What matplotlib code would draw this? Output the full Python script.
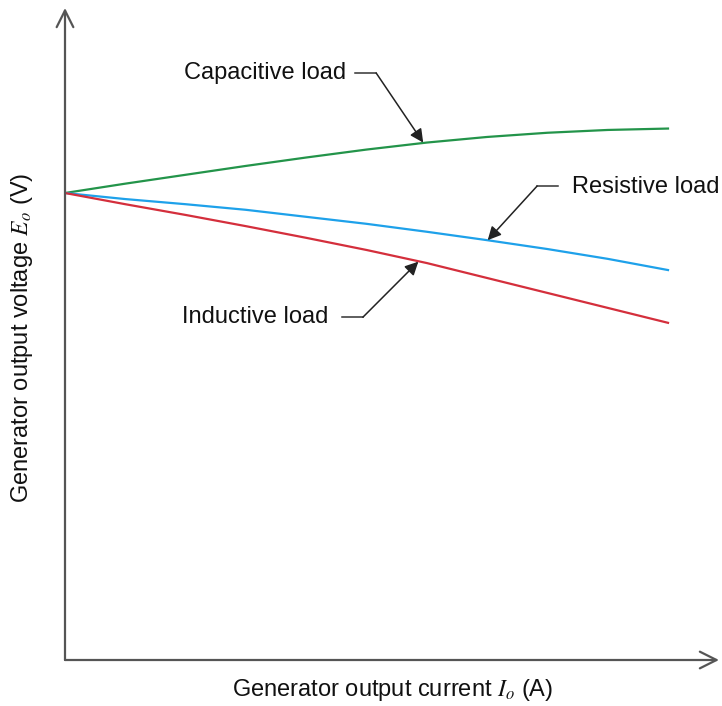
import numpy as np
import matplotlib.pyplot as plt

plt.rcParams['font.family'] = ['Liberation Sans', 'DejaVu Sans']
plt.rcParams['mathtext.fontset'] = 'stix'

# generator output current (arbitrary units)
current = [0, 1, 2, 3, 4, 5, 6, 7, 8, 9, 10]
# generator output voltage for each load type (arbitrary units)
v_capacitive = [10.00, 10.20, 10.39, 10.58, 10.76, 10.93, 11.08, 11.20, 11.29, 11.35, 11.38]
v_resistive = [10.00, 9.87, 9.76, 9.64, 9.49, 9.34, 9.17, 8.99, 8.80, 8.59, 8.35]
v_inductive = [10.00, 9.76, 9.53, 9.29, 9.04, 8.78, 8.50, 8.18, 7.86, 7.54, 7.22]

labels = ['Capacitive load', 'Resistive load', 'Inductive load']

fig = plt.figure(figsize=(7.22, 7.06), dpi=100)
ax = fig.add_axes([65 / 722, 46 / 706, 655 / 722, 652 / 706])
ax.set_xlim(0, 655 / 60.3)
ax.set_ylim(0, 652 / 46.7)
ax.axis('off')

ax.plot(current, v_capacitive, color='#23944a', lw=1.6)
ax.plot(current, v_resistive, color='#1ea1ea', lw=1.6)
ax.plot(current, v_inductive, color='#d42f3c', lw=1.6)

# axes with open arrow heads
axis_kw = dict(arrowstyle='->', color='#555555', lw=1.6, mutation_scale=30,
               shrinkA=0, shrinkB=0)
ax.annotate('', xy=(0, 652 / 46.7), xytext=(0, 0), arrowprops=axis_kw,
            annotation_clip=False)
ax.annotate('', xy=(654 / 60.3, 0), xytext=(0, 0), arrowprops=axis_kw,
            annotation_clip=False)

# callouts: text, elbow, arrow to curve
lead_kw = dict(arrowstyle='-|>', color='#222222', lw=1.1, mutation_scale=20,
               shrinkA=0, shrinkB=0)
seg_kw = dict(color='#333333', lw=1.1)
fs = 17

ax.text(4.66, 12.57, labels[0], ha='right', va='center', fontsize=fs, color='#111111')
ax.plot([4.81, 5.16], [12.57, 12.57], **seg_kw)
ax.annotate('', xy=(5.94, 11.08), xytext=(5.16, 12.57), arrowprops=lead_kw)

ax.text(8.41, 10.13, labels[1], ha='left', va='center', fontsize=fs, color='#111111')
ax.plot([7.83, 8.18], [10.15, 10.15], **seg_kw)
ax.annotate('', xy=(7.01, 8.99), xytext=(7.83, 10.15), arrowprops=lead_kw)

ax.text(4.36, 7.34, labels[2], ha='right', va='center', fontsize=fs, color='#111111')
ax.plot([4.59, 4.94], [7.34, 7.34], **seg_kw)
ax.annotate('', xy=(5.86, 8.53), xytext=(4.94, 7.34), arrowprops=lead_kw)

fig.text(393 / 722, 1 - 690 / 706, 'Generator output current $I_o$ (A)',
         ha='center', va='center', fontsize=fs, color='#111111')
fig.text(22 / 722, 1 - 338 / 706, 'Generator output voltage $E_o$ (V)',
         ha='center', va='center', rotation=90, fontsize=fs, color='#111111')

fig.savefig('out.png', dpi=100)
